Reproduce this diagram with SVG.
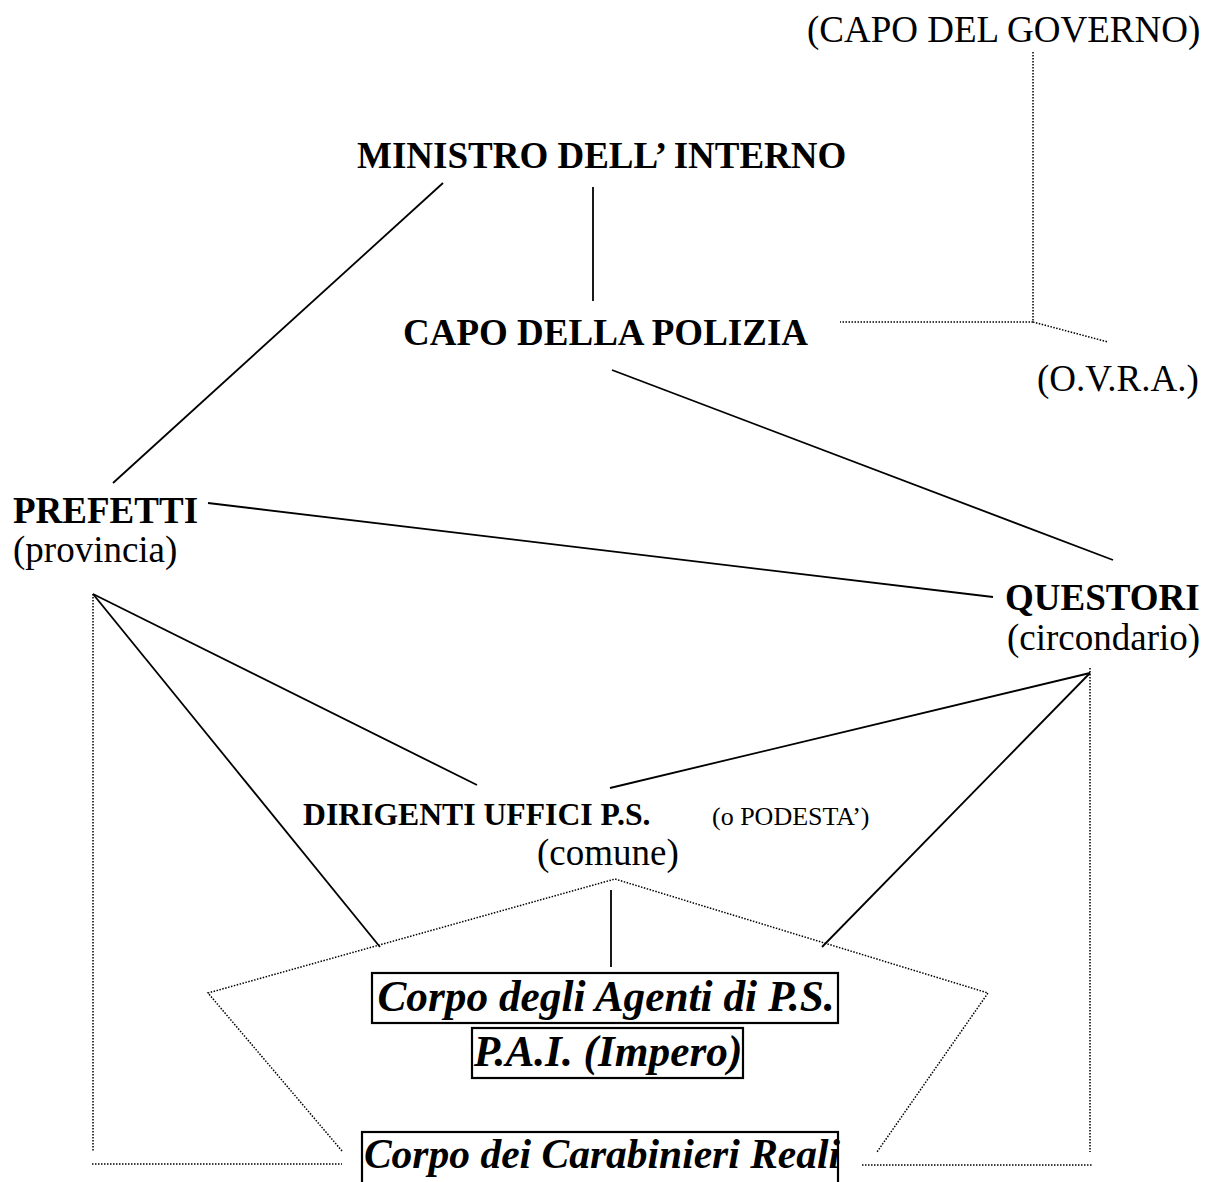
<svg xmlns="http://www.w3.org/2000/svg" width="1207" height="1182" viewBox="0 0 1207 1182">
<style>
  text { font-family: "Liberation Serif", "Times New Roman", serif; fill: #000; }
  .b { font-weight: bold; font-size: 37px; }
  .r { font-size: 37px; }
  .bi { font-weight: bold; font-style: italic; font-size: 43.3px; }
  .solid { stroke: #000; stroke-width: 1.8; fill: none; }
  .dot { stroke: #000; stroke-width: 1.5; fill: none; stroke-dasharray: 1.5 1.5; }
  .box { stroke: #000; stroke-width: 2.2; fill: #fff; }
</style>
<rect width="1207" height="1182" fill="#fff"/>
<g id="connectors">
  <line class="solid" x1="593" y1="187" x2="593" y2="301"/>
  <line class="solid" x1="443" y1="183" x2="113" y2="483"/>
  <line class="solid" x1="612" y1="370" x2="1113" y2="560"/>
  <line class="solid" x1="208" y1="503" x2="993" y2="597"/>
  <line class="solid" x1="93" y1="594" x2="477" y2="785"/>
  <line class="solid" x1="93" y1="594" x2="380" y2="947"/>
  <line class="solid" x1="1090" y1="673" x2="610" y2="788"/>
  <line class="solid" x1="1090" y1="673" x2="822" y2="947"/>
  <line class="solid" x1="611" y1="890" x2="611" y2="967"/>
  <polyline class="dot" points="1033,52 1033,322 840,322"/>
  <line class="dot" x1="1033" y1="322" x2="1108" y2="342"/>
  <polyline class="dot" points="93,594 93,1152"/>
  <line class="dot" x1="92" y1="1164" x2="342" y2="1164"/>
  <polyline class="dot" points="1090,668 1090,1152"/>
  <line class="dot" x1="862" y1="1165" x2="1092" y2="1165"/>
  <polyline class="dot" points="342,1151 208,993 615,879 988,993 877,1152"/>
</g>
<g id="capo-governo"><text class="r" x="807" y="42">(CAPO DEL GOVERNO)</text></g>
<g id="ministro"><text class="b" x="357" y="168">MINISTRO DELL’ INTERNO</text></g>
<g id="capo-polizia"><text class="b" x="403" y="345">CAPO DELLA POLIZIA</text></g>
<g id="ovra"><text class="r" x="1037" y="391">(O.V.R.A.)</text></g>
<g id="prefetti"><text class="b" x="13" y="523">PREFETTI</text><text class="r" x="13" y="562">(provincia)</text></g>
<g id="questori"><text class="b" x="1005" y="610">QUESTORI</text><text class="r" x="1007" y="650">(circondario)</text></g>
<g id="dirigenti"><text class="b" x="303" y="825" style="font-size:31.7px">DIRIGENTI UFFICI P.S.</text><text x="712" y="825" style="font-size:26px">(o PODESTA’)</text><text class="r" x="537" y="865">(comune)</text></g>
<g id="agenti"><rect class="box" x="372" y="973" width="466" height="50"/><text class="bi" x="606" y="1011" text-anchor="middle">Corpo degli Agenti di P.S.</text></g>
<g id="pai"><rect class="box" x="472" y="1028" width="271" height="50"/><text class="bi" x="608" y="1066" text-anchor="middle">P.A.I. (Impero)</text></g>
<g id="carabinieri"><rect class="box" x="362" y="1132" width="476" height="55"/><text class="bi" x="602" y="1168" text-anchor="middle" style="font-size:41.5px">Corpo dei Carabinieri Reali</text></g>
</svg>
